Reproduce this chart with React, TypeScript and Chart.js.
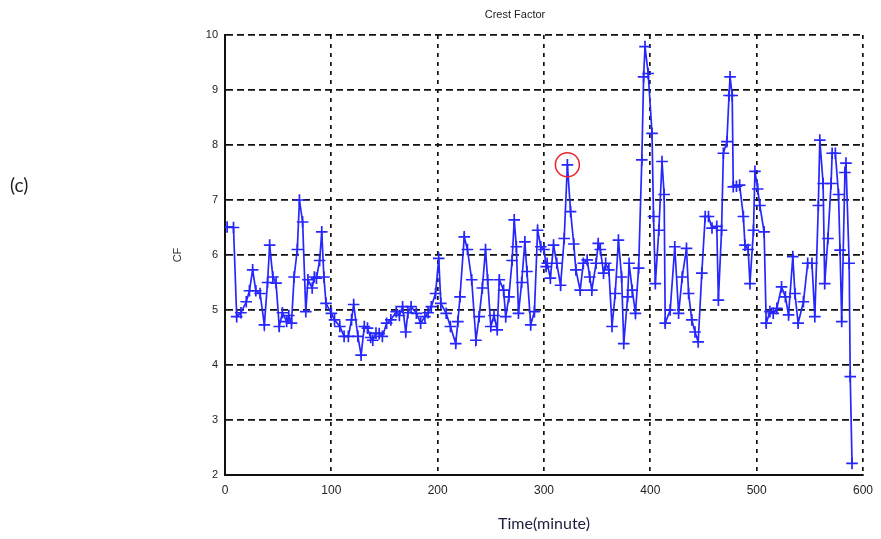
import React, { useEffect, useRef } from "react";
import { Chart, registerables } from "chart.js";

Chart.register(...registerables);

// Sample times (minutes) and crest factor readings
const minutes: number[] = [
  2, 8, 11, 15, 20, 23, 26, 29, 33, 37, 40, 42, 45, 48, 51, 54, 58, 60, 62.5, 65,
  68, 70, 73, 76, 78, 82, 84, 86, 89, 91, 93, 95, 100, 103, 108, 112, 116, 119, 121, 125,
  128, 131, 134, 137, 139, 142, 145, 148, 152, 156, 161, 164, 167, 170, 172, 175, 180, 184, 188, 191,
  194, 198, 201, 203, 208, 212, 217, 219, 221, 225, 228, 232, 236, 239, 242, 245, 247, 250, 253, 256,
  258, 262, 264, 267, 270, 272, 274, 276, 279, 282, 284, 287.5, 291, 294, 297, 300, 302, 303, 306, 309,
  312, 315.6, 319, 322, 325, 328, 330, 334, 337, 340.6, 343, 345, 349, 351, 353, 356, 358, 361, 364, 367,
  370, 373, 375, 378.7, 380, 383, 386, 389, 392, 393.7, 395, 398, 401.6, 403, 404.7, 408, 411, 413, 414, 418.7,
  423, 426.6, 430, 434, 436, 439, 442, 445, 448.4, 451.6, 454.7, 458, 462.5, 464, 467, 468.7, 472, 474, 475, 477,
  478, 481, 484, 487.5, 489, 492, 493.7, 497, 498.4, 501, 503, 507, 509, 512.5, 515.6, 519, 523.4, 527, 530, 534,
  536, 539, 544, 548, 552, 554.7, 558, 559.4, 562.5, 564, 567, 570, 571, 574, 577, 578.4, 580, 583, 584, 587,
  588, 589.7,
];

const cf: number[] = [
  6.51, 6.5, 4.88, 4.95, 5.15, 5.35, 5.73, 5.35, 5.3, 4.73, 5.5, 6.18, 5.6, 5.49, 4.7, 4.95, 4.79, 4.9, 4.76, 5.6,
  6.1, 7.0, 6.6, 4.97, 5.55, 5.4, 5.6, 5.58, 5.9, 6.42, 5.6, 5.12, 4.94, 4.82, 4.7, 4.52, 4.52, 4.82, 5.1, 4.52,
  4.18, 4.7, 4.67, 4.5, 4.45, 4.58, 4.57, 4.52, 4.76, 4.82, 4.97, 4.9, 5.06, 4.6, 4.95, 5.06, 4.94, 4.76, 4.88, 4.95,
  5.06, 5.3, 5.94, 5.12, 4.94, 4.7, 4.39, 4.79, 5.24, 6.33, 6.1, 5.55, 4.45, 4.88, 5.4, 6.1, 5.55, 4.7, 4.9, 4.64,
  5.55, 5.36, 4.88, 5.24, 5.9, 6.64, 6.15, 4.94, 5.5, 6.24, 5.7, 4.73, 4.97, 6.45, 6.15, 6.1, 5.79, 5.85, 5.58, 6.18,
  5.85, 5.45, 6.3, 7.64, 6.79, 6.2, 5.73, 5.36, 5.85, 5.91, 5.6, 5.36, 5.85, 6.21, 6.1, 5.67, 5.85, 5.73, 4.7, 5.3,
  6.27, 5.6, 4.39, 5.24, 5.85, 5.36, 4.94, 5.76, 7.73, 9.24, 9.79, 9.3, 8.21, 6.7, 5.48, 6.45, 7.7, 7.1, 4.76, 5.0,
  6.15, 4.94, 5.6, 6.12, 5.3, 4.82, 4.6, 4.42, 5.67, 6.7, 6.7, 6.49, 6.52, 5.18, 6.45, 7.85, 8.06, 8.9, 9.24, 8.9,
  7.24, 7.25, 7.27, 6.7, 6.18, 6.1, 5.48, 6.45, 7.52, 7.2, 6.9, 6.42, 4.76, 4.97, 4.94, 5.03, 5.42, 5.24, 4.91, 5.97,
  5.3, 4.76, 5.15, 5.85, 5.85, 4.88, 6.9, 8.09, 7.3, 5.48, 6.3, 7.3, 7.85, 7.85, 7.1, 6.09, 4.79, 7.5, 7.67, 5.85,
  3.79, 2.21,
];

// Reading singled out with a red ring
const highlightMinute = 322;

const xTicks = { min: 0, max: 600, step: 100 };
const yTicks = { min: 2, max: 10, step: 1 };

export default function App() {
  const canvasRef = useRef<HTMLCanvasElement | null>(null);

  useEffect(() => {
    const canvas = canvasRef.current;
    if (!canvas) return;
    const series = minutes.map((m, i) => ({ x: m, y: cf[i] }));
    const hi = minutes.indexOf(highlightMinute);
    const ring = hi >= 0 ? [{ x: minutes[hi], y: cf[hi] }] : [];

    const chart = new Chart(canvas, {
      type: "scatter",
      data: {
        datasets: [
          {
            label: "ring",
            data: ring,
            showLine: false,
            pointStyle: "circle",
            pointRadius: 12,
            pointBorderWidth: 1.5,
            pointBorderColor: "#e8262a",
            pointBackgroundColor: "rgba(0,0,0,0)",
          },
          {
            label: "CF",
            data: series,
            showLine: true,
            borderColor: "#2626ff",
            borderWidth: 1.7,
            pointStyle: "cross",
            pointRadius: 5.8,
            pointBorderWidth: 1.7,
            pointBorderColor: "#2626ff",
            pointBackgroundColor: "#2626ff",
          },
        ],
      },
      options: {
        responsive: false,
        animation: false,
        layout: { padding: { left: 165, right: 16, top: 0, bottom: 0 } },
        plugins: {
          legend: { display: false },
          tooltip: { enabled: false },
          title: {
            display: true,
            text: "Crest Factor",
            color: "#222",
            font: { family: "Liberation Sans", size: 11, weight: "normal" },
            padding: { top: 8, bottom: 13.8 },
          },
        },
        scales: {
          x: {
            type: "linear",
            min: xTicks.min,
            max: xTicks.max,
            afterFit: (scale: any) => {
              scale.height = 64;
            },
            ticks: {
              stepSize: xTicks.step,
              color: "#222",
              padding: 8,
              maxRotation: 0,
              font: { family: "Liberation Sans", size: 12 },
            },
            grid: {
              color: "#111",
              lineWidth: 1.7,
              drawTicks: false,
            },
            border: { display: true, color: "#111", width: 2, dash: [4, 5] },
            title: {
              display: true,
              text: "Time(minute)",
              color: "#1e1e3c",
              font: { family: "Lato", size: 16 },
              padding: { top: 0, bottom: 6 },
            },
          },
          y: {
            type: "linear",
            min: yTicks.min,
            max: yTicks.max,
            afterFit: (scale: any) => {
              scale.width = 60;
            },
            ticks: {
              stepSize: yTicks.step,
              color: "#222",
              padding: 7,
              font: { family: "Liberation Sans", size: 11 },
            },
            grid: {
              color: "#111",
              lineWidth: 1.7,
              drawTicks: false,
            },
            border: { display: true, color: "#111", width: 2, dash: [7, 4] },
            title: {
              display: true,
              text: "CF",
              color: "#333",
              font: { family: "Liberation Sans", size: 11 },
              padding: { top: 6.4, bottom: 0 },
            },
          },
        },
      },
    });

    return () => {
      chart.destroy();
    };
  }, []);

  return (
    <div
      style={{
        position: "fixed",
        left: 0,
        top: 0,
        width: 881,
        height: 539,
        background: "#fff",
        overflow: "hidden",
      }}
    >
      <canvas
        ref={canvasRef}
        width={881}
        height={539}
        style={{ position: "absolute", left: 0, top: 0 }}
      />
      <div
        style={{
          position: "absolute",
          left: 10,
          top: 173,
          fontFamily: "Lato, 'Open Sans', sans-serif",
          fontSize: 19,
          color: "#222",
          lineHeight: "24px",
        }}
      >
        (c)
      </div>
    </div>
  );
}
